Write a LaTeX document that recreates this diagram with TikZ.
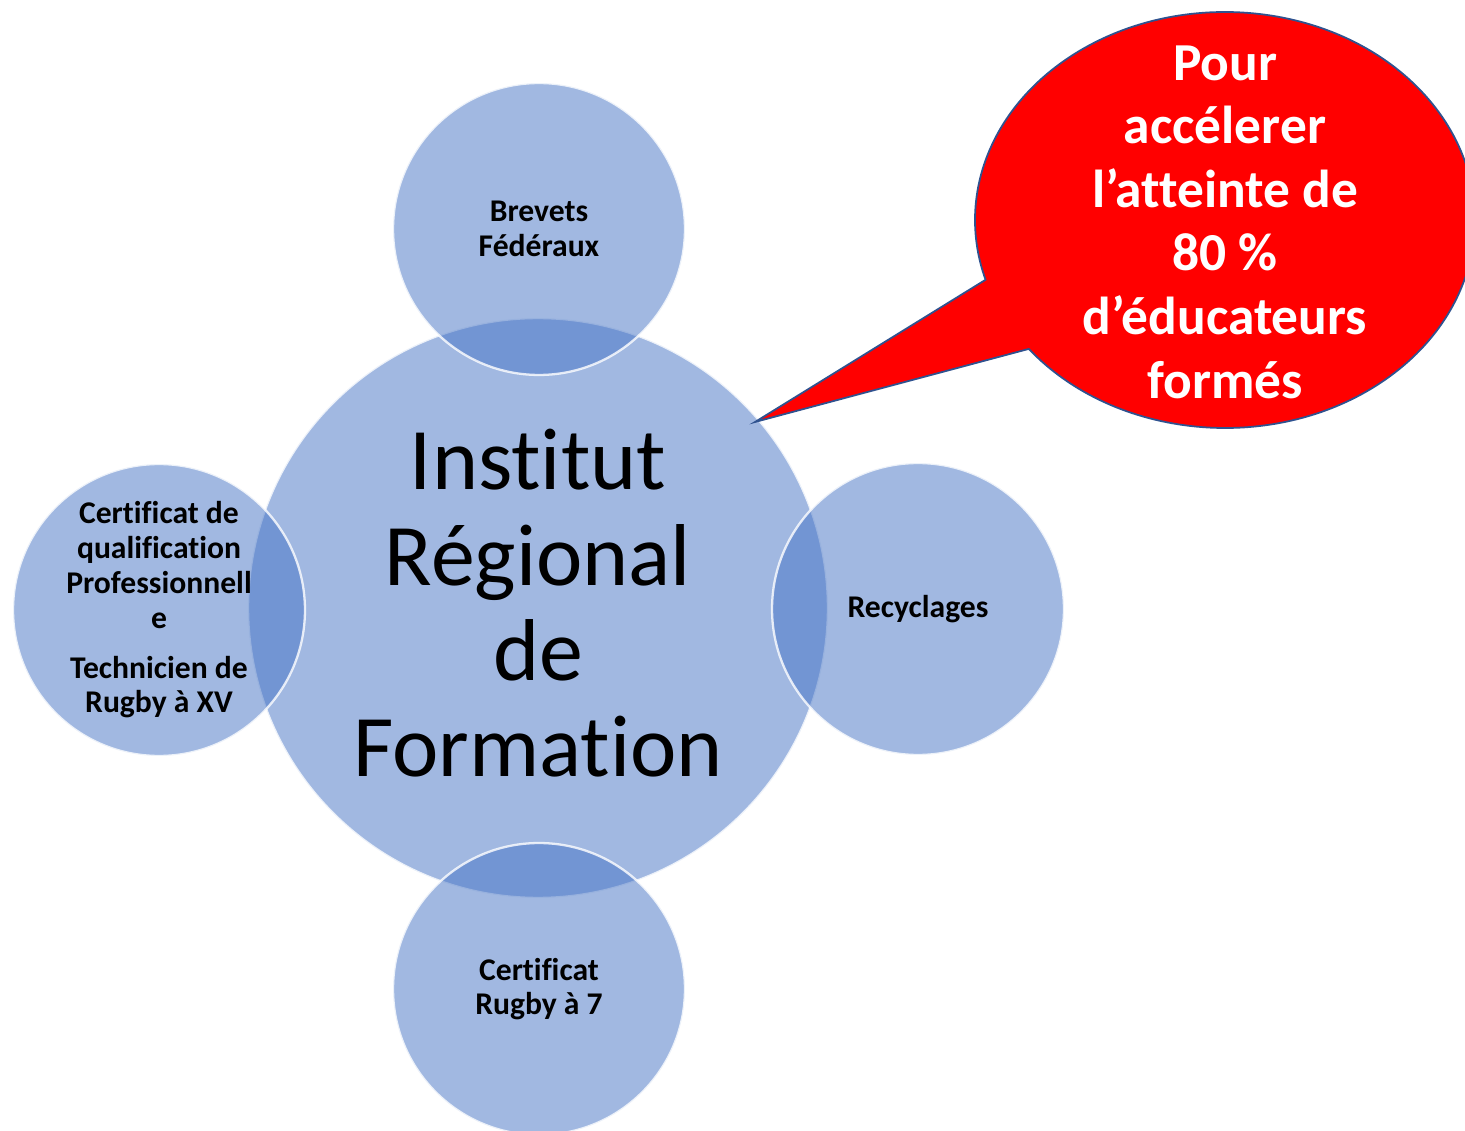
\documentclass[tikz,border=0pt]{standalone}
\usepackage{fontspec}
\setmainfont{Carlito}[RawFeature=-liga]
\usetikzlibrary{calc}
\definecolor{bulle}{RGB}{68,114,196}
\definecolor{bord}{RGB}{47,82,143}
\tikzset{
  disque/.style={circle,fill=bulle,fill opacity=0.5,draw=white,draw opacity=0.8,line width=1.3pt,inner sep=0pt},
  petit/.style={font=\bfseries\fontsize{18}{19.8}\selectfont,align=center,inner sep=0pt},
}
\begin{document}
\begin{tikzpicture}[x=0.02cm,y=-0.02cm]
                    \useasboundingbox (0,0) rectangle (1465,1131);
                    \coordinate (C) at (1225,220);
                    \node[disque,minimum size=11.6cm] (IRF) at (538,608) {};
                    \node[disque,minimum size=5.84cm] (BF) at (539,229) {};
                    \node[disque,minimum size=5.84cm] (REC) at (918,609) {};
                    \node[disque,minimum size=5.84cm] (CQP) at (159,610) {};
                    \node[disque,minimum size=5.84cm] (CR7) at (539,989) {};
                    \node[font=\fontsize{50}{54.4}\selectfont,align=center,inner sep=0pt] (tIRF) at (538,603) {Institut\\Régional\\de\\Formation};
                    \node[petit] (tBF) at (BF) {Brevets\\Fédéraux};
                    \node[petit] (tREC) at (REC) {Recyclages};
                    \node[petit] (tCQP) at (CQP) {Certificat de\\qualification\\Professionnell\\e\\[8.5pt]Technicien de\\Rugby à XV};
                    \node[petit] (tCR7) at (CR7) {Certificat\\Rugby à 7};
                    \filldraw[fill=red,draw=bord,line width=1pt] ($(C)+(141.7:250 and 208)$)
                      arc[start angle=141.7,end angle=-196.7,x radius=250,y radius=208] -- (755,422) -- cycle;
                    \node[font=\bfseries\fontsize{30.4}{36.2}\selectfont,text=white,align=center,inner sep=0pt] (tBUL) at (1225,222) {Pour\\accélerer\\l’atteinte de\\80 \%\\d’éducateurs\\formés};
                \end{tikzpicture}
\end{document}
